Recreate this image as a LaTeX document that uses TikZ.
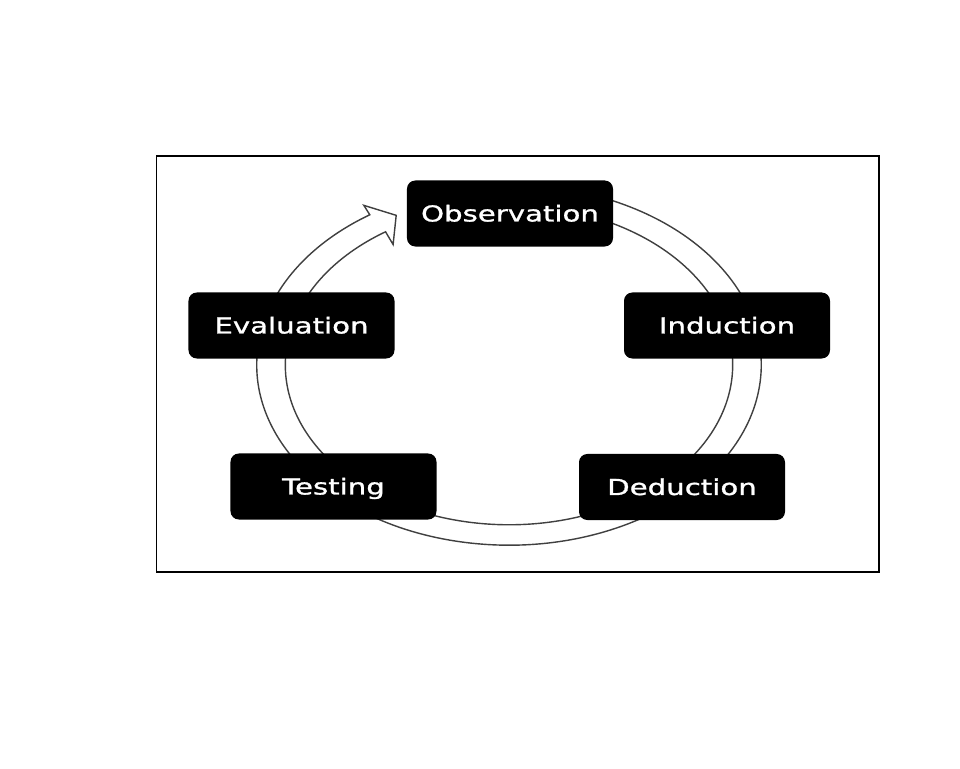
\documentclass[tikz,border=0pt]{standalone}
\usepackage{fontspec}
\newfontfamily\stagefont[FakeStretch=1.33,FakeBold=1.2]{DejaVu Sans}
\usepackage{tikz}
\usetikzlibrary{positioning}

\begin{document}
\begin{tikzpicture}[x=0.02cm,y=0.02cm,line width=0.6pt,
    stage/.style={fill=black,draw=black,rounded corners=4.5pt,minimum width=4.1cm,minimum height=1.3cm,
      inner sep=0pt,text=white,text height=9.1pt,text depth=0pt,font=\stagefont\fontsize{12.5}{15}\selectfont}]
    \useasboundingbox (0,0) rectangle (960,768);
    \draw[black] (156.5,196) rectangle (879,612);
    \begin{scope}[shift={(509,403)},x=4.76cm,y=3.4cm]
      \draw[draw=black!75,fill=white,line width=0.8pt] (80:1.06) arc[start angle=80,end angle=-236.5,radius=1.06]
        -- (123:1.12) -- (118.3:1.0) -- (124.5:0.86) -- (-236.5:0.94)
        arc[start angle=-236.5,end angle=80,radius=0.94] -- cycle;
    \end{scope}
    \node[stage] (obs) at (510,554.5) {Observation};
    \node[stage] (ind) at (727,442.5) {Induction};
    \node[stage] (ded) at (682,281) {Deduction};
    \node[stage] (tst) at (333.5,281.5) {Testing};
    \node[stage] (evl) at (291.5,442.5) {Evaluation};
\end{tikzpicture}
\end{document}
